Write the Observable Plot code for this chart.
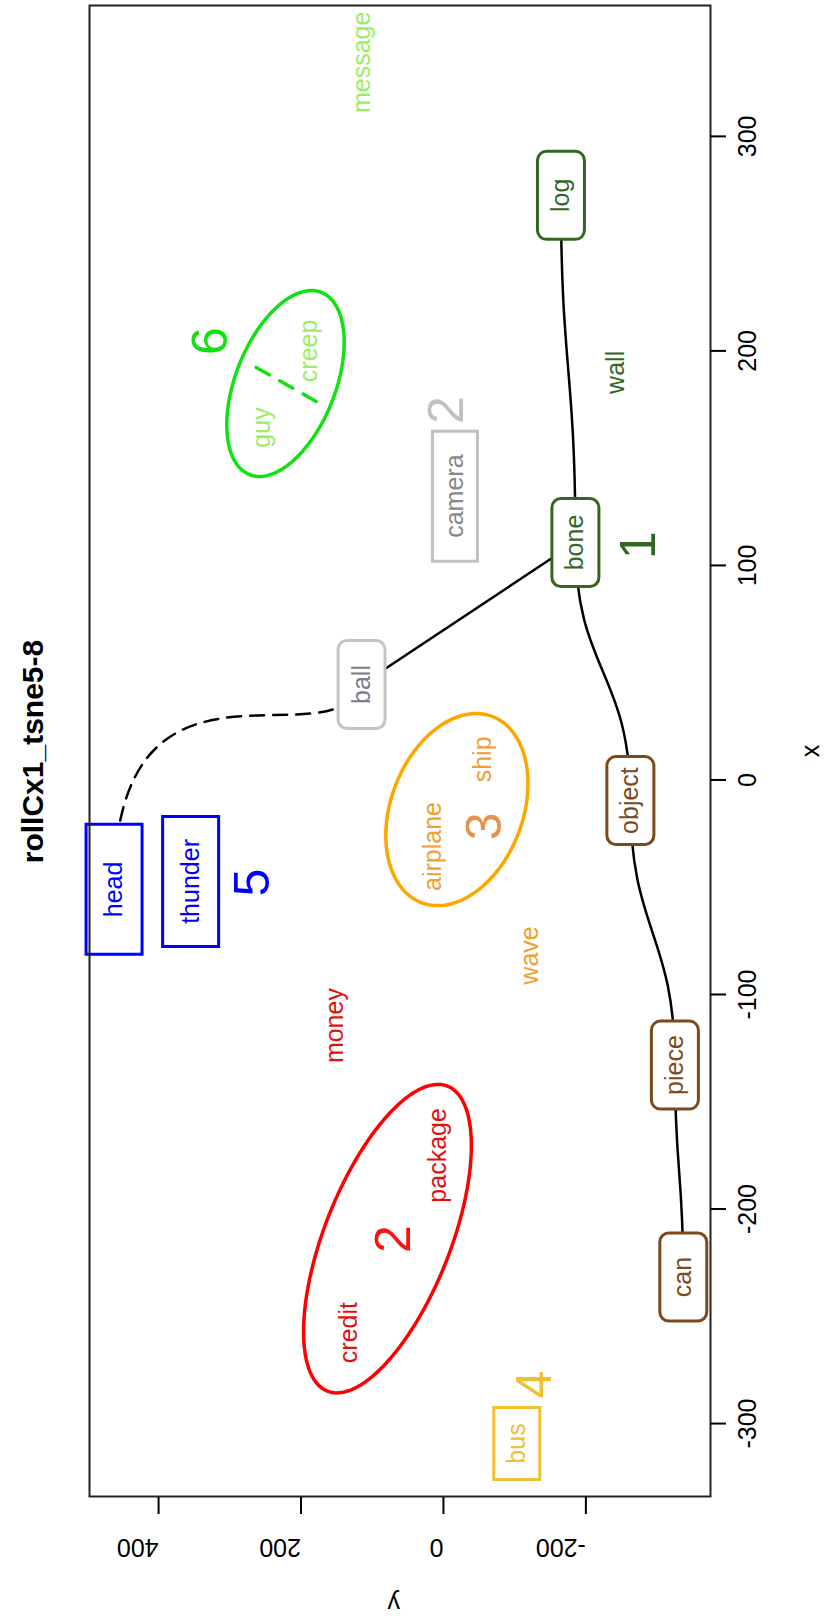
<!DOCTYPE html>
<html><head><meta charset="utf-8">
<script src="https://cdn.jsdelivr.net/npm/d3@7"></script>
<script src="https://cdn.jsdelivr.net/npm/@observablehq/plot@0.6"></script>
<style>
html,body{margin:0;padding:0;overflow:hidden;background:#fff;width:834px;height:1619px;}
#wrap{position:absolute;left:0;top:0;width:1619px;height:834px;transform-origin:0 0;transform:translateY(1619px) rotate(-90deg);background:#fff;font-family:"Liberation Sans",Arial,Helvetica,sans-serif;}
#title{height:60px;box-sizing:border-box;padding:18px 6px 0 122px;font-weight:bold;font-size:30px;line-height:30px;text-align:center;color:#000;}
</style></head><body><div id="wrap"><div id="title">rollCx1_tsne5-8</div></div>
<script>
// ---- data ----
const words = ["message","log","wall","guy","creep","camera","bone","ball","airplane","ship","head","thunder","wave","object","money","piece","package","credit","can","bus"];
const wordX = [334.5,272.5,190,164.3,200,132.3,110.7,44.5,-31,9.6,-51,-47.3,-81.8,-9.6,-114.5,-132.9,-175,-257.6,-231.7,-309.3];
const wordY = [114,-165,-242,254.6,188.6,-16.1,-185.3,115,14,-56,462.5,355,-122,-262.5,151.6,-325,7,133,-336.8,-103];
const wordGroup = ["6","1","1","6","6","2g","1","b","3","3","5","5","3","o","2","o","2","2","o","4"];

const clusterNum = ["1","2","3","5","6","2","4"];
const clusterGroup = ["1","2g","3","5","6","2","4"];
const clusterX = [109.5,172.4,-21.6,-47.8,204.6,-214,-281.8];
const clusterY = [-275,-5.6,-59,268,326,70,-129];

const ellipseGroup = ["2","3","6"];
const ellipseCX = [-213.8,-13.8,184.8];
const ellipseCY = [78.6,-18.9,221.8];
const ellipseUX = [71.1,43.4,42.5];
const ellipseUY = [-84.2,-49.8,-50.3];
const ellipseVX = [-10.7,-11,-8.5];
const ellipseVY = [-82.4,-86.5,-65.3];

const splitX = [192.3,175.1];
const splitY = [263,171.5];

const pathMain = ["log","bone","object","piece","can"];
const pathBall = ["ball","bone"];
const pathHead = ["head","ball"];

const xTicks = [-300,-200,-100,0,100,200,300];
const yTicks = [-200,0,200,400];

// ---- styles ----
const textColor = {"1":"#336622","2":"#e41010","2g":"#888888","3":"#f0a030","4":"#efc033","5":"#0000ff","6":"#99ee66","o":"#7a4a1c","b":"#7d7a8a"};
const numColor = {"1":"#336622","2":"#ff1111","2g":"#c0c0c0","3":"#e8914a","4":"#efc033","5":"#0000ff","6":"#11e011"};
const boxColor = {"1":"#336622","o":"#7a4a1c","b":"#c4c4c4","2g":"#c0c0c0","5":"#0000ff","4":"#efc033"};
const ellipseColor = {"2":"#ff0000","3":"#ffa500","6":"#11e011"};
const boxShape = {log:"round",bone:"round",ball:"round",object:"round",piece:"round",can:"round",camera:"wide",head:"tall",thunder:"tall",bus:"small"};
const boxSize = {round:[88,47,9],wide:[130,45,0],tall:[130,56,0],small:[72,46,0]};

function boxSymbol(w,h,r){
  return {draw(ctx){
    const x0=-w/2,y0=-h/2,x1=w/2,y1=h/2;
    if(r>0){
      ctx.moveTo(x0+r,y0);ctx.lineTo(x1-r,y0);ctx.arcTo(x1,y0,x1,y0+r,r);
      ctx.lineTo(x1,y1-r);ctx.arcTo(x1,y1,x1-r,y1,r);
      ctx.lineTo(x0+r,y1);ctx.arcTo(x0,y1,x0,y1-r,r);
      ctx.lineTo(x0,y0+r);ctx.arcTo(x0,y0,x0+r,y0,r);ctx.closePath();
    } else {
      ctx.moveTo(x0,y0);ctx.lineTo(x1,y0);ctx.lineTo(x1,y1);ctx.lineTo(x0,y1);ctx.closePath();
    }
  }};
}

// hook-shaped connector: leaves first point horizontally, bends down into the second
function curveHook(context){
  let pts=[];
  return {
    areaStart(){}, areaEnd(){},
    lineStart(){pts=[];},
    lineEnd(){
      if(pts.length<2) return;
      const [a,b]=pts, dx=b[0]-a[0], dy=b[1]-a[1];
      context.moveTo(a[0],a[1]);
      context.bezierCurveTo(a[0]+1.3*dx, a[1], b[0]-0.4*dx, a[1]+0.87*dy, b[0], b[1]);
    },
    point(x,y){pts.push([x,y]);}
  };
}

const rows = words.map((w,i)=>({word:w,x:wordX[i],y:wordY[i],g:wordGroup[i]}));
const pos = Object.fromEntries(rows.map(d=>[d.word,d]));
const clusters = clusterNum.map((n,i)=>({n,g:clusterGroup[i],x:clusterX[i],y:clusterY[i]}));

const ellipsePts = [];
ellipseGroup.forEach((g,i)=>{
  const N=120;
  for(let k=0;k<=N;k++){
    const t=2*Math.PI*k/N;
    ellipsePts.push({g,x:ellipseCX[i]+ellipseUX[i]*Math.cos(t)+ellipseVX[i]*Math.sin(t),
                       y:ellipseCY[i]+ellipseUY[i]*Math.cos(t)+ellipseVY[i]*Math.sin(t)});
  }
});
const splitPts = splitX.map((x,i)=>({x,y:splitY[i]}));
const toPts = p=>p.map(w=>({x:pos[w].x,y:pos[w].y}));

const boxMarks = Object.keys(boxSize).map(type=>{
  const [w,h,r]=boxSize[type];
  return Plot.dot(rows.filter(d=>boxShape[d.word]===type),{x:"x",y:"y",symbol:boxSymbol(w,h,r),r:10,fill:"white",stroke:d=>boxColor[d.g],strokeWidth:3});
});

const chart = Plot.plot({
  width:1619, height:774,
  marginLeft:122, marginRight:6, marginTop:29, marginBottom:124,
  x:{domain:[-334,361], axis:null},
  y:{domain:[-375,497], axis:null},
  color:{type:"identity"},
  style:{fontFamily:"'Liberation Sans', Arial, Helvetica, sans-serif", fontSize:"25px", background:"white", color:"black"},
  marks:[
    Plot.line(ellipsePts,{x:"x",y:"y",z:"g",stroke:d=>ellipseColor[d.g],strokeWidth:3.5}),
    Plot.line(splitPts,{x:"x",y:"y",stroke:ellipseColor["6"],strokeWidth:3.5,strokeDasharray:"15,12"}),
    Plot.line(toPts(pathMain),{x:"x",y:"y",curve:"bump-x",stroke:"black",strokeWidth:2.5}),
    Plot.line(toPts(pathBall),{x:"x",y:"y",stroke:"black",strokeWidth:2.5}),
    Plot.line(toPts(pathHead),{x:"x",y:"y",curve:curveHook,stroke:"black",strokeWidth:2.5,strokeDasharray:"14,9"}),
    ...boxMarks,
    Plot.text(rows,{x:"x",y:"y",text:"word",fill:d=>textColor[d.g],fontSize:25}),
    Plot.text(clusters,{x:"x",y:"y",text:"n",fill:d=>numColor[d.g],fontSize:50}),
    Plot.frame({stroke:"#222",strokeWidth:2}),
    Plot.axisX({ticks:xTicks,tickSize:16,tickFormat:()=>"",label:null,strokeWidth:2}),
    Plot.axisY({ticks:yTicks,tickSize:17,tickFormat:()=>"",label:null,strokeWidth:2}),
    Plot.text(xTicks,{x:d=>d,text:d=>String(d),frameAnchor:"bottom",dy:45,fontSize:25,fill:"black"}),
    Plot.text(yTicks,{y:d=>d,text:d=>String(d),frameAnchor:"left",dx:-50,rotate:-90,fontSize:25,fill:"black"}),
    Plot.text(["x"],{text:d=>d,frameAnchor:"bottom",dy:108,fontSize:25,fill:"black"}),
    Plot.text(["y"],{text:d=>d,frameAnchor:"left",dx:-106,rotate:-90,fontSize:25,fill:"black"})
  ]
});
document.getElementById("wrap").appendChild(chart);
</script>
</body></html>
